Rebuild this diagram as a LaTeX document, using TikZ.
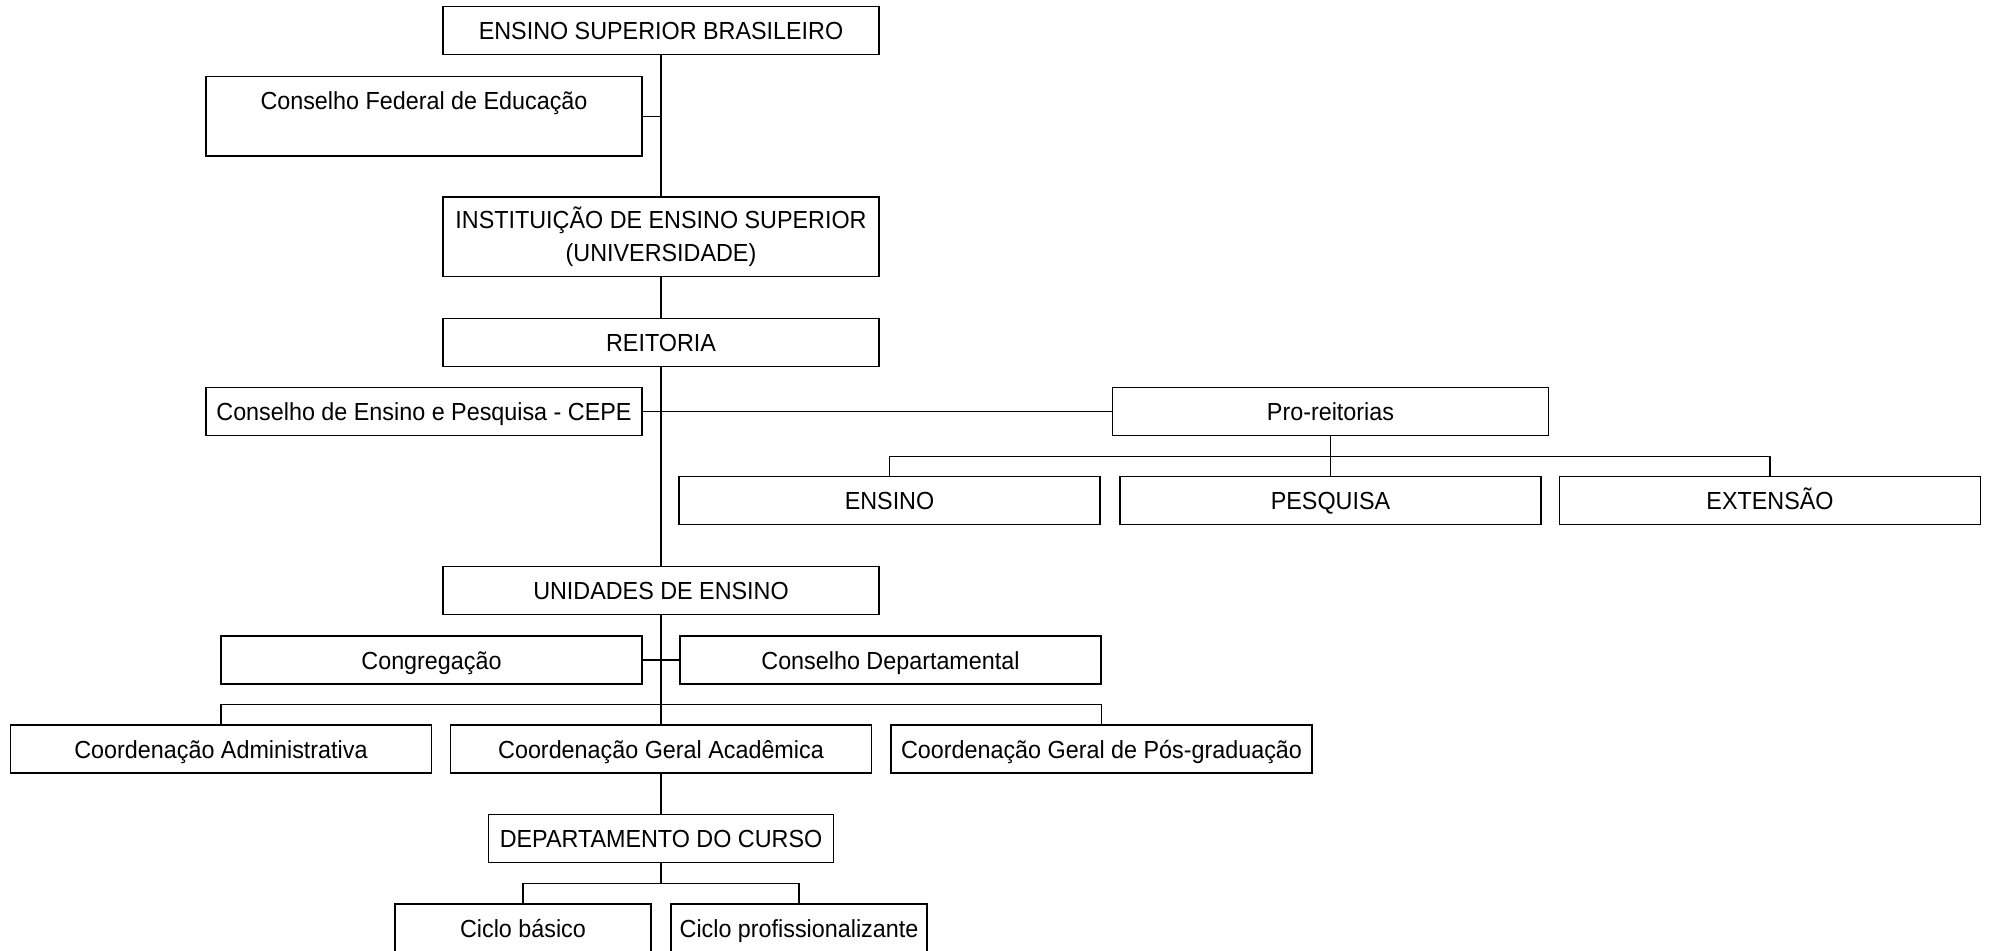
\documentclass[tikz,border=0pt]{standalone}
\usepackage{fontspec}
\setmainfont[FakeStretch=0.945]{Liberation Sans}
\begin{document}
\begin{tikzpicture}[x=0.5pt,y=-0.5pt,
  box/.style={draw, line width=0.6pt, inner sep=0pt, text height=9pt, text depth=0pt,
    font=\fontsize{12.35}{16.3}\selectfont, minimum height=24pt},
  wide/.style={box, minimum width=218pt},
  mid/.style={box, minimum width=210.5pt},
  conn/.style={line width=0.6pt}]
\useasboundingbox (0,0) rectangle (1991,950);
% main column
\node[wide] (top) at (661,30.8) {ENSINO SUPERIOR BRASILEIRO};
\node[wide, minimum height=39.85pt, text depth=16.2pt] (cfe) at (424,116.2) {Conselho Federal de Educação};
\node[draw, line width=0.6pt, inner sep=0pt, minimum width=218pt, minimum height=39.85pt,
  align=center, font=\fontsize{12.35}{16.3}\selectfont] (inst) at (661,236.8)
  {INSTITUIÇÃO DE ENSINO SUPERIOR\\(UNIVERSIDADE)};
\node[wide] (reit) at (661,342.2) {REITORIA};
\node[wide] (cepe) at (424,411.7) {Conselho de Ensino e Pesquisa - CEPE};
\node[wide] (pro) at (1330.5,411.7) {Pro-reitorias};
\node[mid] (ens) at (889.5,500.7) {ENSINO};
\node[mid] (pes) at (1330.5,500.7) {PESQUISA};
\node[mid] (ext) at (1770,500.7) {EXTENSÃO};
\node[wide] (unid) at (661,590.3) {UNIDADES DE ENSINO};
\node[mid] (cong) at (431.5,660) {Congregação};
\node[mid] (cdep) at (890.5,660) {Conselho Departamental};
\node[mid] (cadm) at (221,749) {Coordenação Administrativa};
\node[mid] (cga) at (661,749) {Coordenação Geral Acadêmica};
\node[mid] (cpg) at (1101.5,749) {Coordenação Geral de Pós-graduação};
\node[box, minimum width=172.75pt] (dept) at (661,838.8) {DEPARTAMENTO DO CURSO};
\node[box, minimum width=128pt] (cb) at (523,928) {Ciclo básico};
\node[box, minimum width=128pt] (cp) at (799,928) {Ciclo profissionalizante};
% bus coordinates
\coordinate (b1) at (1330.5,456.7);
\coordinate (b2) at (661,704.3);
\coordinate (b3) at (661,883.3);
% connectors
\draw[conn] (top.south) -- (inst.north);
\draw[conn] (cfe.east) -- (cfe.east -| top.south);
\draw[conn] (inst.south) -- (reit.north);
\draw[conn] (reit.south) -- (unid.north);
\draw[conn] (cepe.east) -- (pro.west);
\draw[conn] (pro.south) -- (pes.north);
\draw[conn] (ens.north) |- (b1) -| (ext.north);
\draw[conn] (unid.south) -- (cga.north);
\draw[conn] (cong.east) -- (cdep.west);
\draw[conn] (cadm.north) |- (b2) -| (cpg.north);
\draw[conn] (cga.south) -- (dept.north);
\draw[conn] (dept.south) -- (b3);
\draw[conn] (cb.north) |- (b3) -| (cp.north);
\end{tikzpicture}
\end{document}
